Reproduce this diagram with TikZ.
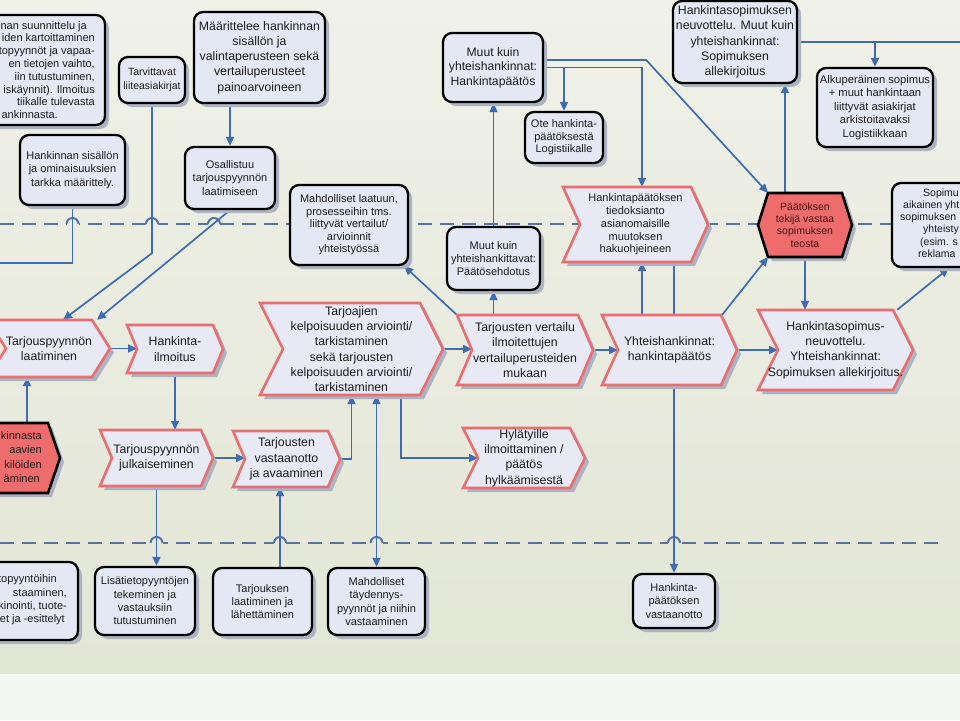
\documentclass[tikz,border=0pt]{standalone}
\usepackage{fontspec}
\setmainfont{Liberation Sans}
\usetikzlibrary{arrows.meta,shadows}
\definecolor{boxfill}{RGB}{228,232,244}
\definecolor{chevfill}{RGB}{231,234,245}
\definecolor{chevline}{RGB}{232,110,112}
\definecolor{redfill}{RGB}{238,108,108}
\definecolor{shadowcol}{RGB}{172,180,196}
\definecolor{conncol}{RGB}{62,108,180}
\definecolor{dashcol}{RGB}{84,116,168}
\definecolor{textcol}{RGB}{28,28,28}
\definecolor{hextext}{RGB}{70,20,20}
\definecolor{bgA}{RGB}{240,241,232}
\definecolor{bgB}{RGB}{226,230,213}
\definecolor{bgC}{RGB}{244,246,241}
\definecolor{hopA}{RGB}{235,237,225}
\definecolor{hopB}{RGB}{229,232,217}
\pgfdeclarelayer{bg}
\pgfdeclarelayer{background}
\pgfsetlayers{bg,background,main}
\newcommand\fzC{\fontsize{12.3}{15.3}\selectfont}
\newcommand\fzM{\fontsize{12.2}{14.5}\selectfont}
\newcommand\fzS{\fontsize{11}{13.3}\selectfont}
\newcommand\fzL{\fontsize{11}{12.5}\selectfont}
\newcommand\fzP{\fontsize{10.5}{14}\selectfont}
\newcommand\fzK{\fontsize{11.2}{13.5}\selectfont}
\newcommand\fzX{\fontsize{10.5}{12.3}\selectfont}
\newcommand\fzH{\fontsize{11}{12.8}\selectfont}
\newcommand\fzR{\fontsize{11}{14.3}\selectfont}
\tikzset{
  txt/.style={align=center, inner sep=0pt, text=textcol},
  rbox/.style={draw=black, line width=2.3pt, rounded corners=9pt, fill=boxfill, align=center, inner sep=1pt, text=textcol,
    drop shadow={shadow xshift=4pt, shadow yshift=-4pt, fill=shadowcol, opacity=1}},
  chevst/.style={draw=chevline, line width=2.6pt, fill=chevfill, line join=miter},
  redst/.style={draw=black, line width=2.6pt, fill=redfill, line join=miter},
  conn/.style={draw=conncol, line width=1.7pt},
  arr/.style={conn, -{Triangle[length=9pt,width=8pt]}},
  darr/.style={conn, {Triangle[length=9pt,width=8pt]}-{Triangle[length=9pt,width=8pt]}},
  dashln/.style={draw=dashcol, line width=2pt, dash pattern=on 14pt off 8pt}
}
% rounded box: name x1 y1 x2 y2 font text
\newcommand\rbx[7]{\node[rbox, font=#6, minimum width={#4-#2}, minimum height={#5-#3}] (#1) at ({(#2+#4)/2},{(#3+#5)/2}) {#7};}
% chevron: name x1 y1 x2 y2 indent style font text
\newcommand\chev[9]{%
  \fill[shadowcol] ({#2+4},{#3+4}) -- ({#4-#6+4},{#3+4}) -- ({#4+4},{(#3+#5)/2+4}) -- ({#4-#6+4},{#5+4}) -- ({#2+4},{#5+4}) -- ({#2+#6+4},{(#3+#5)/2+4}) -- cycle;
  \draw[#7] (#2,#3) -- ({#4-#6},#3) -- (#4,{(#3+#5)/2}) -- ({#4-#6},#5) -- (#2,#5) -- ({#2+#6},{(#3+#5)/2}) -- cycle;
  \coordinate (#1-n) at ({#2+#6},{(#3+#5)/2});
  \node[txt, font=#8, minimum width={#4-#2}, minimum height={#5-#3}] (#1) at ({(#2+#4)/2},{(#3+#5)/2}) {#9};}
\newcommand\hop[3]{\draw[draw=#3, line width=3pt] ({#1-6},#2) -- ({#1+6},#2);
  \draw[dashcol, line width=2pt] ({#1-6},#2) arc[start angle=180, end angle=360, radius=6];}
\begin{document}
\begin{tikzpicture}[x=1pt,y=-1pt]
\useasboundingbox (0,0) rectangle (960,720);
\begin{pgfonlayer}{bg}
\fill[bgC] (0,0) rectangle (960,720);
\shade[top color=bgA, bottom color=bgB] (0,0) rectangle (960,673);
\end{pgfonlayer}

% ---------- top row boxes ----------
\rbx{b1}{-80}{15}{105}{125}{\fzH}{}
\node[txt, font=\fzH, align=right, anchor=east] (b1t) at (95,70) {nan suunnittelu ja\hspace*{8pt}\\iden kartoittaminen\hspace*{1pt}\\topyynnöt ja vapaa-\hspace*{4pt}\\en tietojen vaihto,\hspace*{8pt}\\iin tutustuminen,\hspace*{12pt}\\iskäynnit). Ilmoitus\\tiikalle tulevasta\hspace*{16pt}\\ankinnasta.\hspace*{37pt}};
\rbx{b2}{119}{57}{185}{103}{\fzP}{Tarvittavat\\liiteasiakirjat}
\rbx{b3}{194}{12}{325}{103}{\fzC}{Määrittelee hankinnan\\sisällön ja\\valintaperusteen sekä\\vertailuperusteet\\painoarvoineen}
\rbx{b4}{20}{135}{125}{205}{\fzS}{Hankinnan sisällön\\ja ominaisuuksien\\tarkka määrittely.}
\rbx{b5}{185}{147}{275}{209}{\fzS}{Osallistuu\\tarjouspyynnön\\laatimiseen}
\rbx{b6}{290}{185}{408}{265}{\fzL}{Mahdolliset laatuun,\\prosesseihin tms.\\liittyvät vertailut/\\arvioinnit\\yhteistyössä}
\rbx{b7}{443}{33}{543}{102}{\fzM}{Muut kuin\\yhteishankinnat:\\Hankintapäätös}
\rbx{b8}{525}{112}{603}{163}{\fzL}{Ote hankinta-\\päätöksestä\\Logistiikalle}
\rbx{b9}{447}{227}{540}{290}{\fzS}{Muut kuin\\yhteishankittavat:\\Päätösehdotus}
\rbx{b10}{673}{1}{797}{83}{\fzC}{Hankintasopimuksen\\neuvottelu. Muut kuin\\yhteishankinnat:\\Sopimuksen\\allekirjoitus}
\rbx{b11}{817}{68}{933}{147}{\fzK}{Alkuperäinen sopimus\\+ muut hankintaan\\liittyvät asiakirjat\\arkistoitavaksi\\Logistiikkaan}
\rbx{b12}{892}{183}{1000}{267}{\fzX}{}
\node[txt, font=\fzX, align=left, anchor=west] (b12t) at (900,223) {\hspace*{23pt}Sopimu\\\hspace*{3pt}aikainen yht\\sopimuksen\\\hspace*{23pt}yhteisty\\\hspace*{20pt}(esim. s\\\hspace*{18pt}reklama};

% ---------- chevrons ----------
\chev{hti}{563}{187}{708}{262}{17}{chevst}{\fzH}{Hankintapäätöksen\\tiedoksianto\\asianomaisille\\muutoksen\\hakuohjeineen}
\chev{tpl}{-12}{320}{110}{377}{18}{chevst}{\fzC}{Tarjouspyynnön\\laatiminen}
\chev{hil}{127}{325}{223}{373}{10}{chevst}{\fzC}{Hankinta-\\ilmoitus}
\chev{tka}{260}{303}{443}{395}{23}{chevst}{\fzC}{Tarjoajien\\kelpoisuuden arviointi/\\tarkistaminen\\sekä tarjousten\\kelpoisuuden arviointi/\\tarkistaminen}
\chev{tve}{457}{315}{593}{385}{15}{chevst}{\fzC}{Tarjousten vertailu\\ilmoitettujen\\vertailuperusteiden\\mukaan}
\chev{yhp}{602}{315}{737}{385}{16}{chevst}{\fzC}{Yhteishankinnat:\\hankintapäätös}
\chev{hsn}{758}{310}{913}{390}{20}{chevst}{\fzC}{Hankintasopimus-\\neuvottelu.\\Yhteishankinnat:\\Sopimuksen allekirjoitus.}
\chev{tpj}{100}{430}{213}{486}{12}{chevst}{\fzC}{Tarjouspyynnön\\julkaiseminen}
\chev{tva}{233}{431}{340}{487}{12}{chevst}{\fzC}{Tarjousten\\vastaanotto\\ja avaaminen}
\chev{hyl}{463}{428}{585}{488}{15}{chevst}{\fzC}{Hylätyille\\ilmoittaminen /\\päätös\\hylkäämisestä}
\chev{hvn}{-30}{423}{60}{493}{12}{redst}{\fzR}{}
\node[txt, font=\fzR, align=right, anchor=east] (hvnt) at (42,457) {kinnasta\\aavien\hspace*{5pt}\\kilöiden\hspace*{4pt}\\äminen\hspace*{2pt}};

% ---------- hexagon ----------
\fill[shadowcol] (762,229) -- (772,197) -- (846,197) -- (856,229) -- (846,261) -- (772,261) -- cycle;
\draw[redst] (758,225) -- (768,193) -- (842,193) -- (852,225) -- (842,257) -- (768,257) -- cycle;
\coordinate (hex-tl) at (768,193);
\coordinate (hex-bl) at (768,257);
\node[txt, font=\fzX, text=hextext, minimum width=94, minimum height=64] (hex) at (805,225) {Päätöksen\\tekijä vastaa\\sopimuksen\\teosta};

% ---------- bottom row ----------
\rbx{b13}{-60}{562}{78}{640}{\fzS}{}
\node[txt, font=\fzS, align=right, anchor=east] (b13t) at (67,600) {topyyntöihin\hspace*{10pt}\\staaminen,\hspace*{15pt}\\kinointi, tuote-\\et ja -esittelyt\hspace*{2pt}};
\rbx{b14}{95}{567}{195}{635}{\fzS}{Lisätietopyyntöjen\\tekeminen ja\\vastauksiin\\tutustuminen}
\rbx{b15}{213}{568}{312}{635}{\fzS}{Tarjouksen\\laatiminen ja\\lähettäminen}
\rbx{b16}{328}{568}{425}{635}{\fzS}{Mahdolliset\\täydennys-\\pyynnöt ja niihin\\vastaaminen}
\rbx{b17}{633}{574}{715}{628}{\fzS}{Hankinta-\\päätöksen\\vastaanotto}

% ---------- lines behind ----------
\begin{pgfonlayer}{background}
\draw[dashln] (0,224) -- (960,224);
\draw[dashln] (0,543) -- (945,543);
\hop{72.5}{224}{hopA}
\hop{152}{224}{hopA}
\hop{214}{224}{hopA}
\hop{156.5}{543}{hopB}
\hop{280}{543}{hopB}
\hop{376.5}{543}{hopB}
\hop{674}{543}{hopB}
\coordinate (offA) at (0,263);
\draw[conn] (b4.south) |- (offA);
\draw[arr] (b2.south) -- ++(0,149) -- ([xshift=14pt]tpl.north);
\draw[arr] (b5.south) -- ([xshift=48pt]tpl.north);
\draw[arr] (b3.south -| b5.north) -- (b5.north);
\draw[arr] (tpl.east) -- (tpl.east -| hil-n);
\coordinate (f1) at ([xshift=12pt]hvn.north);
\draw[arr] (f1) -- (f1 |- tpl.south);
\draw[arr] (hil.south) -- (hil.south |- tpj.north);
\draw[arr] (tpj.east) -- (tpj.east -| tva-n);
\draw[arr] (tpj.south) -- (tpj.south |- b14.north);
\coordinate (j1) at ([xshift=-6.5pt]tva.south);
\draw[arr] (j1 |- b15.north) -- (j1);
\draw[darr] (b16.north |- tka.south) -- (b16.north);
\draw[arr] (tva.east) -| (tka.south);
\coordinate (m1) at ([xshift=49.5pt]tka.south);
\draw[arr] (m1) |- (hyl-n);
\draw[arr] (tka.east) -- (tka.east -| tve-n);
\draw[arr] (tve.north west) -- ([xshift=-5pt]b6.south east);
\draw[arr] (b9.south |- tve.north) -- (b9.south);
\draw[arr] (b9.north) -- (b9.north |- b7.south);
\coordinate (r1) at ([yshift=7.5pt]b7.east);
\draw[arr] (r1) -- ++(102,0) -- (hex-tl);
\draw[arr] (b7.east) -| ([xshift=6.5pt]hti.north);
\draw[arr] (b8.north |- b7.east) -- (b8.north);
\draw[arr] (yhp.east) -- (yhp.east -| hsn-n);
\draw[arr] (tve.east) -- (tve.east -| yhp-n);
\coordinate (v1) at ([xshift=6.5pt]hti.south);
\draw[arr] (v1 |- yhp.north) -- (v1);
\draw[arr] (b17.north |- hti.south) -- (b17.north);
\draw[arr] ([xshift=-15pt]yhp.north east) -- (hex-bl);
\draw[arr] (hex.south) -- (hex.south |- hsn.north);
\coordinate (z1) at ([xshift=-20pt]hex.north);
\draw[arr] (z1) -- (z1 |- b10.south);
\coordinate (offZ) at (960,42);
\draw[conn] (b10.east) -- (offZ);
\draw[arr] (b11.north |- b10.east) -- (b11.north);
\draw[arr] ([xshift=-16pt]hsn.north east) -- ([xshift=58pt]b12.south west);
\end{pgfonlayer}
\end{tikzpicture}
\end{document}
